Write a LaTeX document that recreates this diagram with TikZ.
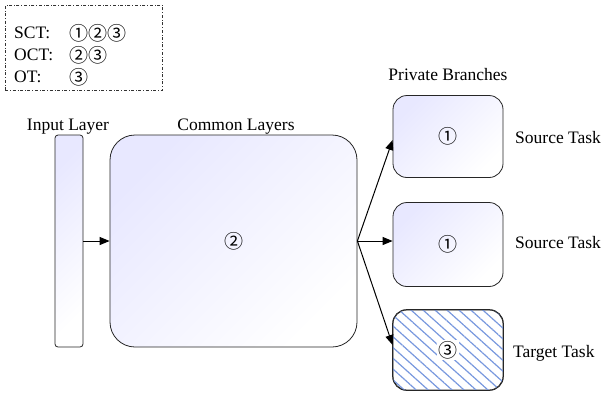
\documentclass[tikz,border=0pt]{standalone}
\usepackage{fontspec}
\setmainfont{Liberation Serif}
\newfontfamily\circfont{Noto Sans CJK SC}
\usetikzlibrary{arrows.meta,patterns.meta}
\begin{document}
\begin{tikzpicture}[x=1pt,y=-1pt,
  lbl/.style={font=\fontsize{17.5}{19}\selectfont, inner sep=0pt},
  num/.style={font=\circfont\fontsize{19}{21}\selectfont, inner sep=0pt},
  layerbox/.style={draw=black!85, line width=0.8pt, left color=blue!9!white, right color=white, shading angle=45},
  conn/.style={-{Triangle[length=10pt,width=8pt]}, line width=1pt},
  hatch/.style={pattern={Lines[angle=-42,distance=8pt,line width=1.2pt]}, pattern color={rgb,255:red,120;green,152;blue,222}}
]
\useasboundingbox (0,0) rectangle (605,392);

% legend
\node[draw=black!80, dash dot, line width=0.5pt, minimum width=157pt, minimum height=85pt, anchor=north west, inner sep=0pt] (legend) at (5,5) {};
\node[lbl, anchor=west] (sct) at (14,33) {SCT:};
\node[lbl, anchor=west] (oct) at (14,55) {OCT:};
\node[lbl, anchor=west] (ot)  at (14,77) {OT:};
\node[num, anchor=west] (sctn) at (69,33) {①②③};
\node[num, anchor=west] (octn) at (69,55) {②③};
\node[num, anchor=west] (otn)  at (69,77) {③};

% layers
\node[layerbox, rounded corners=3pt, minimum width=28pt, minimum height=212pt, inner sep=0pt] (input) at (69,241) {};
\node[layerbox, rounded corners=25pt, minimum width=247pt, minimum height=212pt, inner sep=0pt] (common) at (233.5,241) {};
\node[num] (cnum) at (233.5,241) {②};

\node[layerbox, rounded corners=14pt, minimum width=110pt, minimum height=82pt, inner sep=0pt] (b1) at (448,136.5) {};
\node[num] at (b1) {①};
\node[layerbox, rounded corners=14pt, minimum width=110pt, minimum height=84pt, inner sep=0pt] (b2) at (448,244.5) {};
\node[num] at (b2) {①};
\node[draw=black!85, line width=0.8pt, rounded corners=14pt, minimum width=110pt, minimum height=80pt, inner sep=0pt] (b3) at (448,350) {};
\begin{scope}
  \clip[rounded corners=14pt] (b3.north west) rectangle (b3.south east);
  \fill[hatch] (b3.north west) rectangle (b3.south east);
\end{scope}
\draw[black!85, line width=0.8pt, rounded corners=14pt] (b3.north west) rectangle (b3.south east);
\node[num, fill=white, inner sep=1.5pt] at (b3) {③};

% titles
\node[lbl] (tin) at (68,127) {Input Layer};
\node[lbl] (tcom) at (236,127) {Common Layers};
\node[lbl] (tpriv) at (448,75) {Private Branches};
\node[lbl, anchor=west] (s1) at (515,138) {Source Task};
\node[lbl, anchor=west] (s2) at (515,243) {Source Task};
\node[lbl, anchor=west] (t3) at (513,353) {Target Task};

% connectors
\coordinate (split) at (common.east);
\draw[conn] (input.east) -- (common.west);
\draw[conn] (split) -- (b1.west |- 0,140);
\draw[conn] (split) -- (b2.west |- 0,241);
\draw[conn] (split) -- (b3.west |- 0,345);
\end{tikzpicture}
\end{document}
